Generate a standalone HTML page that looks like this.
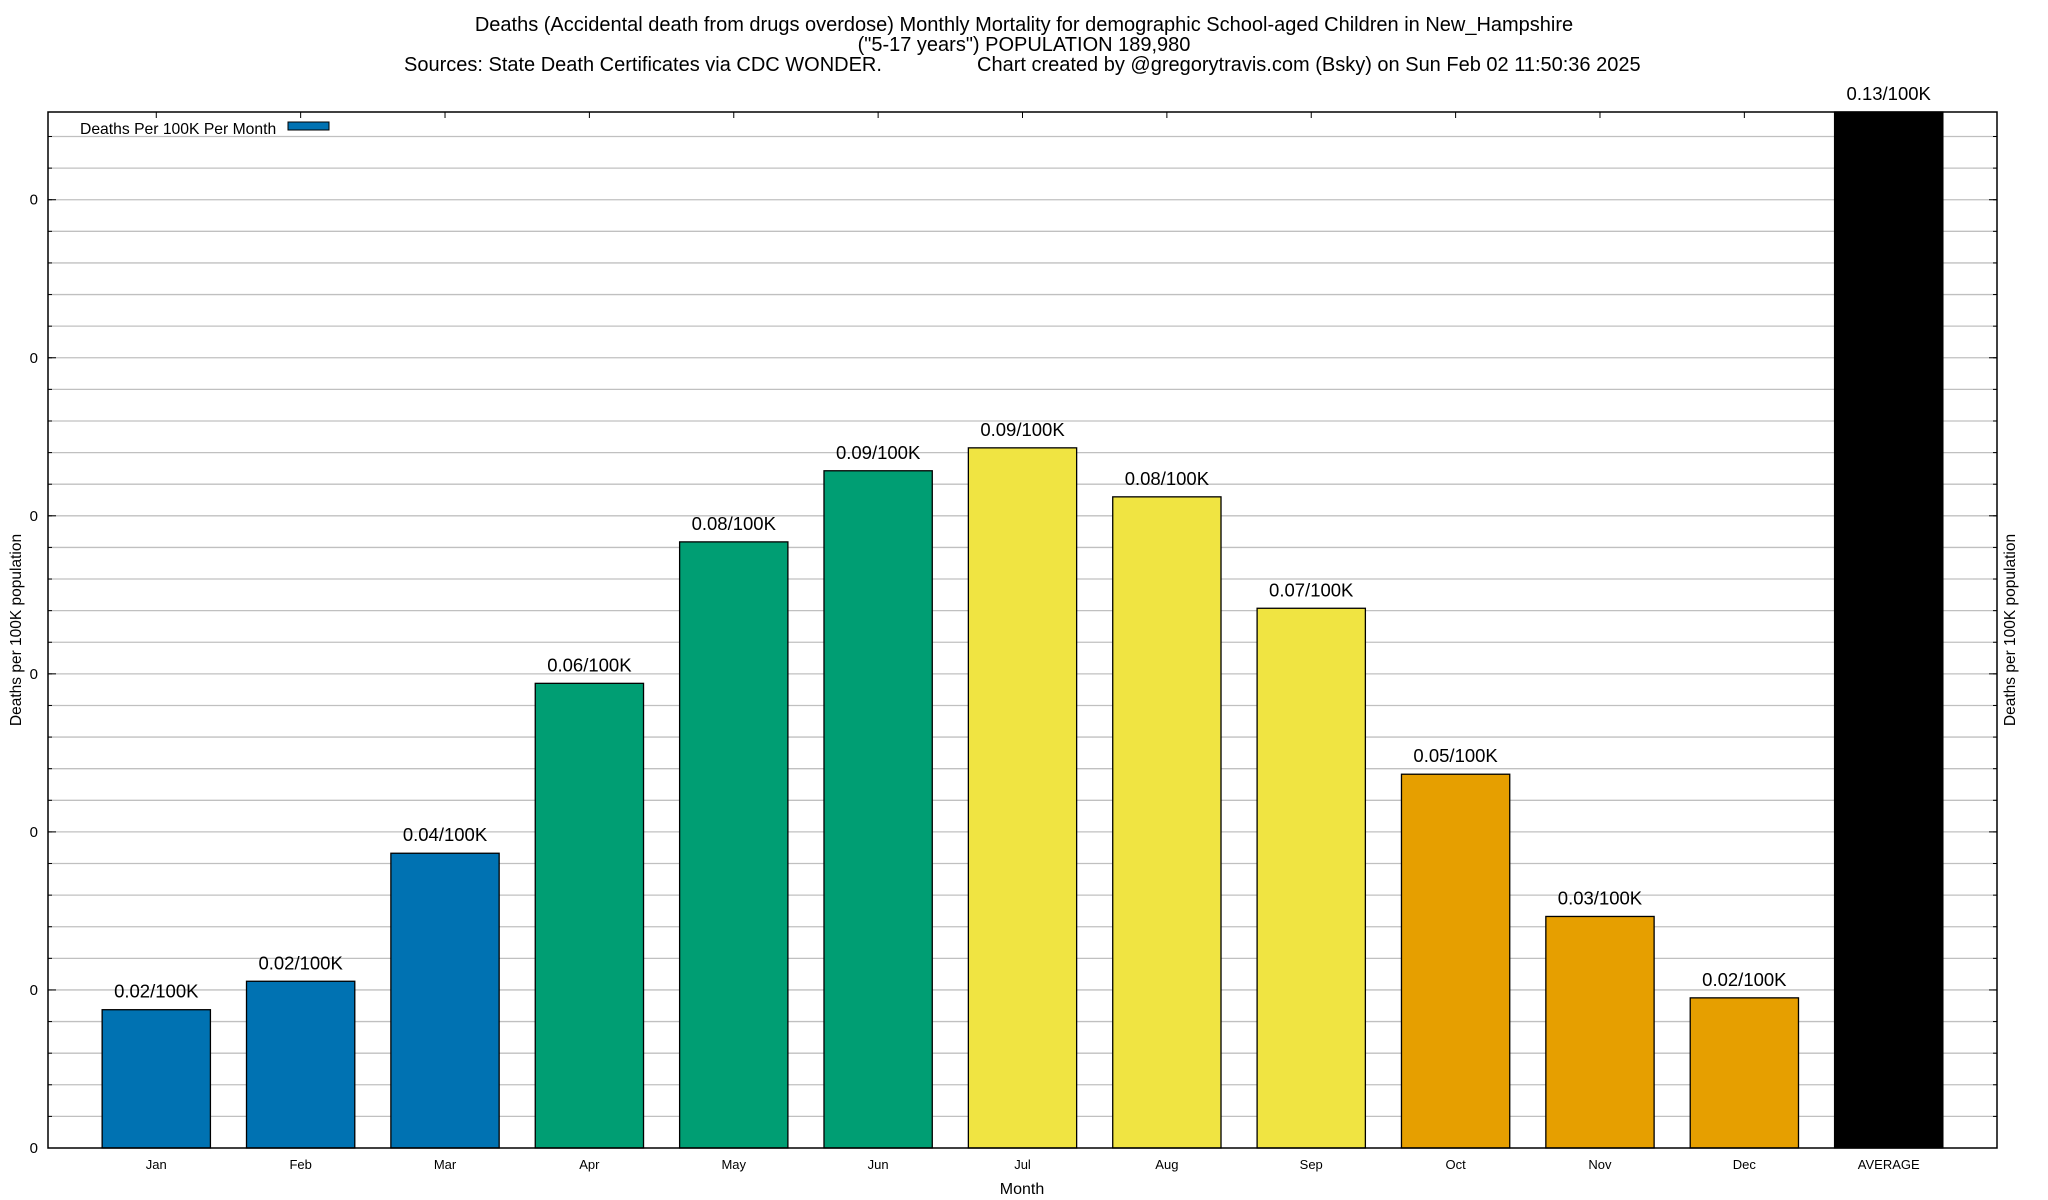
<!DOCTYPE html>
<html><head><meta charset="utf-8"><style>
html,body{margin:0;padding:0;background:#fff;}
svg{display:block;font-family:"Liberation Sans",Arial,sans-serif;}
</style></head><body>
<svg id="chart" width="2048" height="1200" viewBox="0 0 2048 1200">
<g font-size="20" fill="#000">
<text x="1024" y="31" text-anchor="middle">Deaths (Accidental death from drugs overdose) Monthly Mortality for demographic School-aged Children in New_Hampshire</text>
<text x="1024" y="51" text-anchor="middle">("5-17 years") POPULATION 189,980</text>
<text x="404" y="71">Sources: State Death Certificates via CDC WONDER.</text>
<text x="977" y="71">Chart created by @gregorytravis.com (Bsky) on Sun Feb 02 11:50:36 2025</text>
</g>
<g id="grid"></g>
<g id="bars"></g>
<g id="axes"></g>
<g>
<text x="80" y="134" font-size="15.7">Deaths Per 100K Per Month</text>
<rect x="288" y="122" width="41" height="8" fill="#0072b2" stroke="#000" stroke-width="1"/>
</g>
<text x="1022" y="1194" font-size="16" text-anchor="middle">Month</text>
<text transform="translate(21,630) rotate(-90)" font-size="15.5" text-anchor="middle">Deaths per 100K population</text>
<text transform="translate(2015,630) rotate(-90)" font-size="15.5" text-anchor="middle">Deaths per 100K population</text>
</svg>
<script>
const categories = ["Jan","Feb","Mar","Apr","May","Jun","Jul","Aug","Sep","Oct","Nov","Dec","AVERAGE"];
const values = [0.0175,0.0211,0.0373,0.0588,0.0767,0.0857,0.0886,0.0824,0.0683,0.0473,0.0293,0.0190,0.1311];
const valueLabels = ["0.02/100K","0.02/100K","0.04/100K","0.06/100K","0.08/100K","0.09/100K","0.09/100K","0.08/100K","0.07/100K","0.05/100K","0.03/100K","0.02/100K","0.13/100K"];
const colors = ["#0072b2","#0072b2","#0072b2","#009e73","#009e73","#009e73","#f0e442","#f0e442","#f0e442","#e69f00","#e69f00","#e69f00","#000000"];
const yTickValues = [0,0.02,0.04,0.06,0.08,0.10,0.12];
const yTickLabels = ["0","0","0","0","0","0","0"];
const yMinorStep = 0.004;

const NS="http://www.w3.org/2000/svg";
const L=48,R=1997,T=112,B=1148,YMAX=0.1311,XMIN=-0.75,XMAX=12.75;
const xs=i=>L+(i-XMIN)/(XMAX-XMIN)*(R-L);
const ys=v=>B-v/YMAX*(B-T);
const pitch=(R-L)/(XMAX-XMIN), bw=pitch*0.75;
function mk(tag,attrs,parent){const e=document.createElementNS(NS,tag);for(const k in attrs)e.setAttribute(k,attrs[k]);parent.appendChild(e);return e;}
const grid=document.getElementById('grid'),bars=document.getElementById('bars'),axes=document.getElementById('axes');
for(let v=yMinorStep;v<YMAX;v+=yMinorStep){
  const y=ys(v);
  const g=mk('line',{x1:L,x2:R,y1:y,y2:y,stroke:'#c0c0c0','stroke-width':1.3},grid);
  
  
  const t1=mk('line',{x1:L,x2:L+4,y1:y,y2:y,stroke:'#000'},axes);
  
  
  const t2=mk('line',{x1:R-4,x2:R,y1:y,y2:y,stroke:'#000'},axes);
  
  
}
yTickValues.forEach((v,i)=>{
  const y=ys(v);
  const t=mk('line',{x1:L,x2:L+8,y1:y,y2:y,stroke:'#000'},axes);
  
  
  const t2=mk('line',{x1:R-8,x2:R,y1:y,y2:y,stroke:'#000'},axes);
  
  
  const lb=mk('text',{x:38,y:y+5,'font-size':15,'text-anchor':'end'},axes);
  lb.textContent=yTickLabels[i];
  
  
});
categories.forEach((c,i)=>{
  const cx=xs(i),top=Math.max(ys(values[i]),T);
  const r=mk('rect',{x:cx-bw/2,y:top,width:bw,height:B-top,fill:colors[i],stroke:'#000','stroke-width':1.3},bars);
  
  
  const vl=mk('text',{x:cx,y:top-12,'font-size':18.5,'text-anchor':'middle'},bars);
  vl.textContent=valueLabels[i];
  
  
  const xl=mk('text',{x:cx,y:1169,'font-size':13,'text-anchor':'middle'},axes);
  xl.textContent=c;
  
  
  const tt=mk('line',{x1:cx,x2:cx,y1:T,y2:T+6,stroke:'#000'},axes);
  
  
});
const fr=mk('rect',{x:L,y:T,width:R-L,height:B-T,fill:'none',stroke:'#000','stroke-width':1.5},axes);


</script>
</body></html>
